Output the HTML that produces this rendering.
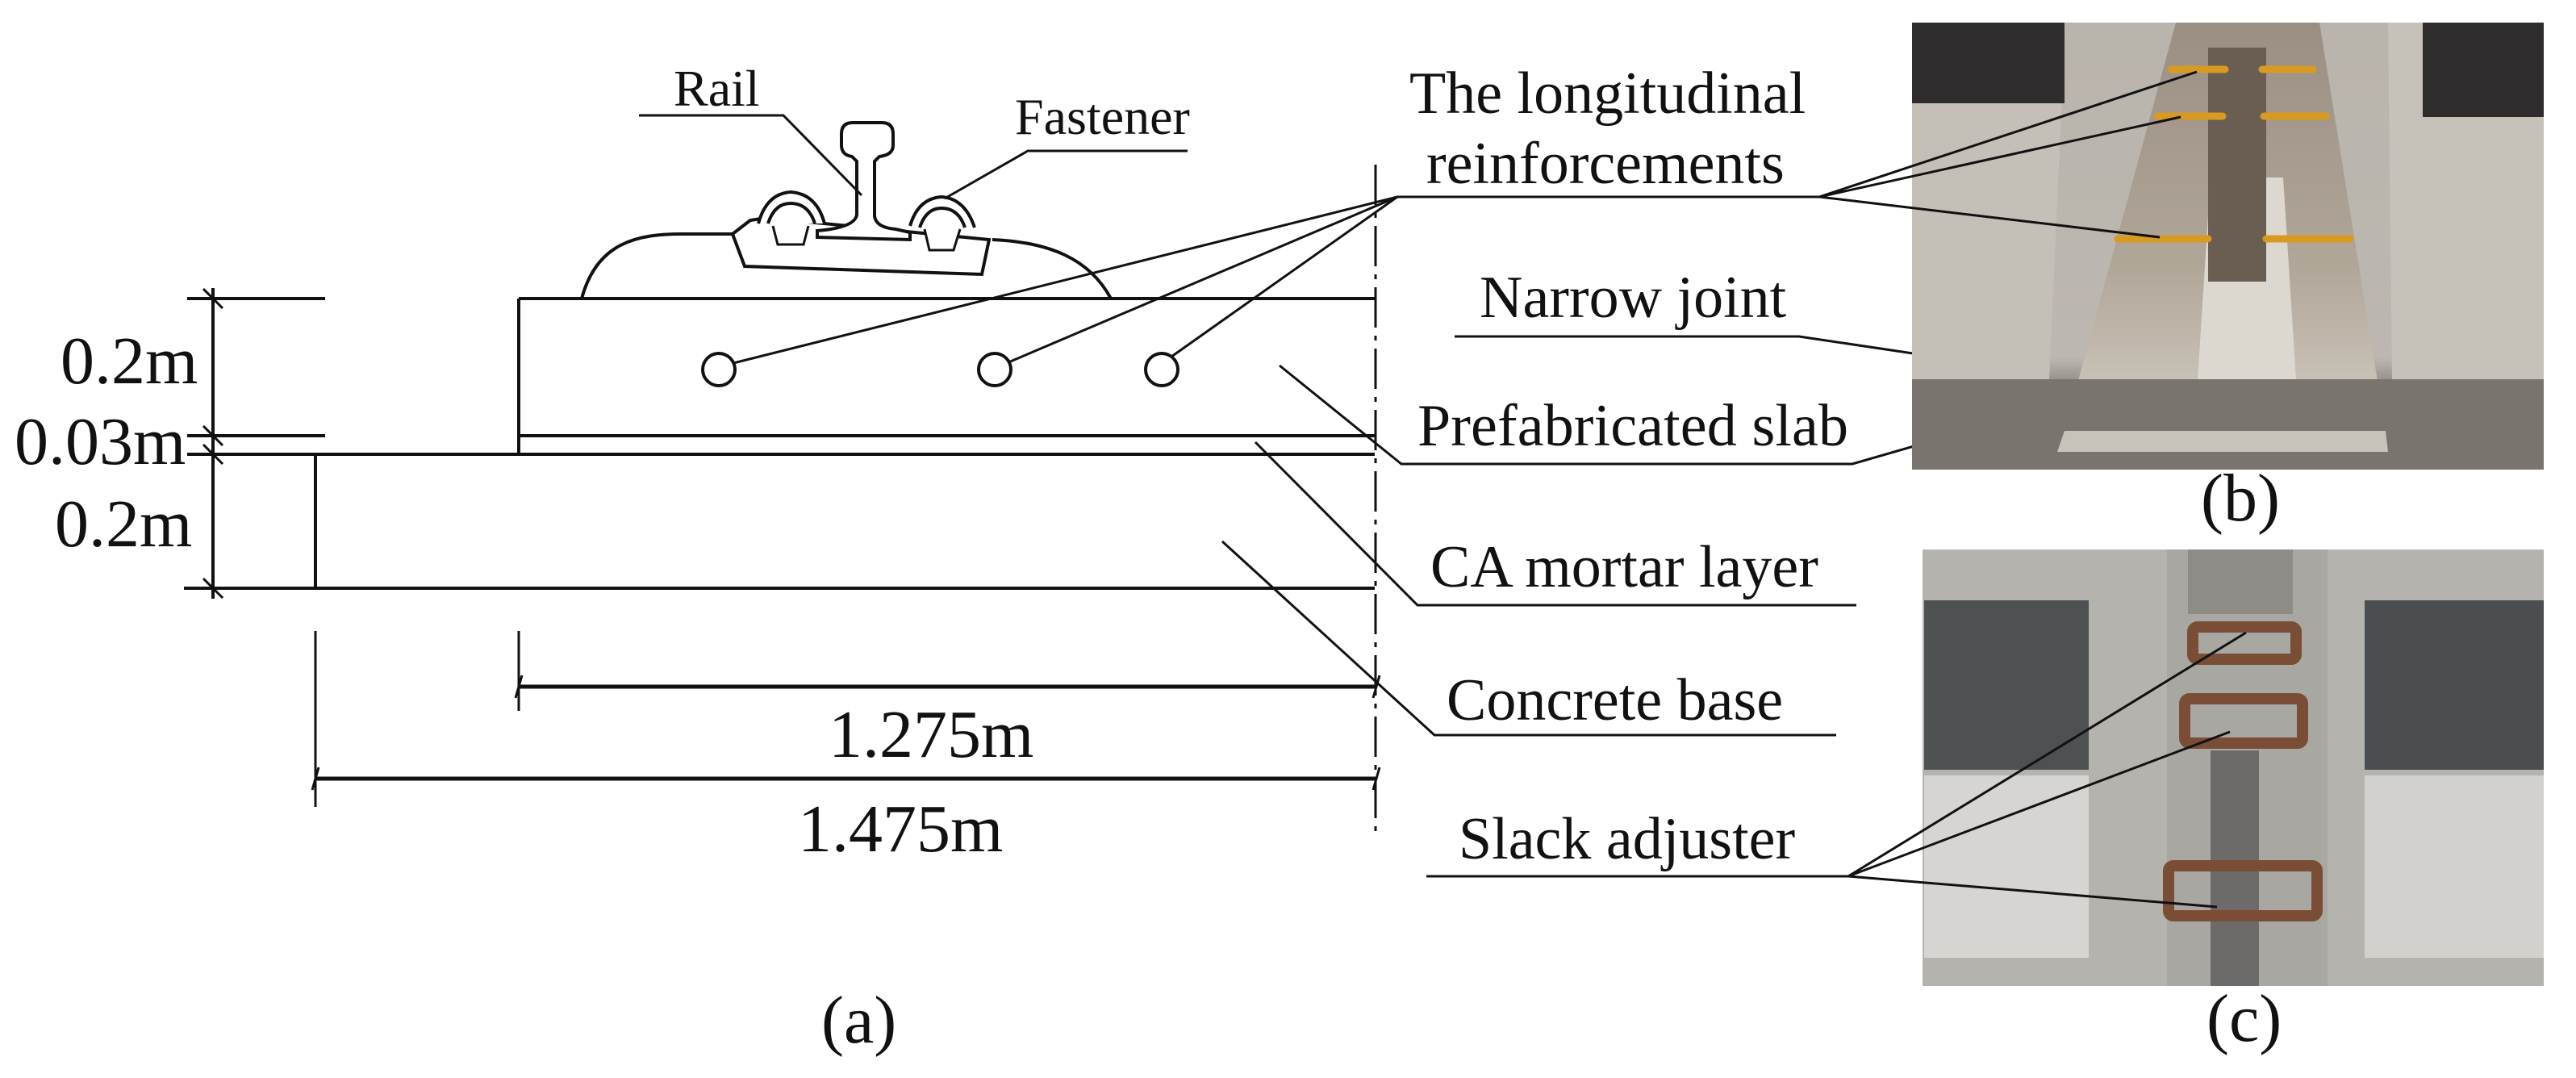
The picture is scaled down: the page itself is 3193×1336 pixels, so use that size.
<!DOCTYPE html>
<html><head><meta charset="utf-8"><style>
html,body{margin:0;padding:0;background:#fff;}
svg{display:block;}
text{font-family:"Liberation Serif",serif;fill:#111;}
</style></head><body>
<svg width="3193" height="1336" viewBox="0 0 3193 1336" xmlns="http://www.w3.org/2000/svg">
<defs>
<linearGradient id="gb" x1="0" y1="0" x2="0" y2="1">
<stop offset="0" stop-color="#b9b4ac"/><stop offset="0.75" stop-color="#bcb7b0"/><stop offset="0.82" stop-color="#8a847d"/><stop offset="1" stop-color="#6e6862"/>
</linearGradient>
<linearGradient id="gt" x1="0" y1="0" x2="0" y2="1">
<stop offset="0" stop-color="#9a8f82"/><stop offset="0.6" stop-color="#b1a799"/><stop offset="1" stop-color="#d2ccc2"/>
</linearGradient>
</defs>
<g stroke="#111" stroke-width="4" fill="none">
<!-- slab, CA, base -->
<line x1="643" y1="370" x2="1704" y2="370"/>
<line x1="643" y1="370" x2="643" y2="563"/>
<line x1="643" y1="540" x2="1704" y2="540"/>
<line x1="391" y1="563" x2="1704" y2="563"/>
<line x1="391" y1="563" x2="391" y2="729"/>
<line x1="228" y1="729" x2="1704" y2="729"/>
<!-- left dims -->
<line x1="232" y1="370" x2="403" y2="370"/>
<line x1="232" y1="540" x2="403" y2="540"/>
<line x1="232" y1="563" x2="391" y2="563"/>
<line x1="264" y1="357" x2="264" y2="742"/>
<line x1="252" y1="358" x2="276" y2="382" stroke-width="3"/>
<line x1="252" y1="528" x2="276" y2="552" stroke-width="3"/>
<line x1="252" y1="551" x2="276" y2="575" stroke-width="3"/>
<line x1="252" y1="717" x2="276" y2="741" stroke-width="3"/>
<!-- bottom dims -->
<line x1="391" y1="782" x2="391" y2="1000" stroke-width="3"/>
<line x1="643" y1="782" x2="643" y2="881" stroke-width="3"/>
<line x1="643" y1="851" x2="1706" y2="851" stroke-width="5"/>
<line x1="391" y1="965" x2="1706" y2="965" stroke-width="5"/>
<path d="M647 837 L639 865 M1710 837 L1702 865 M395 951 L387 979 M1710 951 L1702 979" stroke-width="3"/>
<!-- dashed centerline -->
<line x1="1705" y1="204" x2="1705" y2="1030" stroke-width="3" stroke-dasharray="50,10,6,10"/>
<!-- circles -->
<circle cx="891" cy="458" r="20"/>
<circle cx="1233" cy="458" r="20"/>
<circle cx="1440" cy="458" r="20"/>
<!-- rail + fasteners -->
<path d="M721 370 C740 300 790 290 846 290 L908 290"/>
<path d="M1230 297 C1300 300 1350 320 1377 370"/>
<path d="M908 290 L930 273 L950 270 L1226 297 L1217 340 L923 330 Z" fill="#fff"/>
<path d="M1043 166 Q1043 152 1057 152 L1093 152 Q1107 152 1107 166 L1107 180 Q1107 192 1090 194 L1084 200 L1084 268 Q1086 282 1110 284 L1128 288 L1128 297 L1013 294 L1013 286 Q1060 282 1062 266 L1062 200 L1056 194 Q1043 192 1043 180 Z" fill="#fff"/>
<path d="M940 277 Q950 240 980 238 Q1012 240 1022 277" fill="#fff"/>
<path d="M952 277 Q960 252 980 252 Q1002 252 1010 277"/>
<path d="M958 280 L964 303 L996 303 L1002 280" fill="#fff" stroke-width="3"/>
<path d="M1128 280 Q1138 246 1167 244 Q1196 246 1208 282" fill="#fff"/>
<path d="M1140 282 Q1148 258 1167 258 Q1188 258 1196 282"/>
<path d="M1146 284 L1152 310 L1182 310 L1190 284" fill="#fff" stroke-width="3"/>
<!-- leaders -->
<polyline points="792,143 971,143 1068,242" stroke-width="3"/>
<polyline points="1472,187 1274,187 1171,246" stroke-width="3"/>
<polyline points="909,450 1732,244 2255,244" stroke-width="3"/>
<line x1="1250" y1="449" x2="1732" y2="244" stroke-width="3"/>
<line x1="1452" y1="442" x2="1732" y2="244" stroke-width="3"/>
<polyline points="1586,453 1737,575 2296,575 2504,515" stroke-width="3"/>
<polyline points="1803,417 2230,417 2748,494" stroke-width="3"/>
<polyline points="1556,548 1757,750 2301,750" stroke-width="3"/>
<polyline points="1515,671 1778,911 2276,911" stroke-width="3"/>
</g>
<!-- photo b -->
<g>
<rect x="2370" y="28" width="783" height="554" fill="url(#gb)"/>
<path d="M2370 28 L2560 28 L2540 470 L2370 470 Z" fill="#c4c0b8"/>
<path d="M2960 28 L3153 28 L3153 470 L2965 470 Z" fill="#c6c2ba"/>
<path d="M2697 28 L2875 28 L2957 534 L2559 534 Z" fill="url(#gt)"/>
<path d="M2740 220 L2830 220 L2850 534 L2720 534 Z" fill="#ddd8cf"/>
<rect x="2737" y="59" width="72" height="290" fill="#6a5e52"/>
<rect x="2370" y="470" width="783" height="112" fill="#7a746e"/>
<path d="M2559 534 L2957 534 L2960 560 L2550 560 Z" fill="#c8c3ba"/>
<g stroke="#d99a22" stroke-width="9" stroke-linecap="round">
<line x1="2691" y1="86" x2="2758" y2="86"/><line x1="2804" y1="86" x2="2867" y2="86"/>
<line x1="2674" y1="144" x2="2755" y2="144"/><line x1="2806" y1="144" x2="2883" y2="144"/>
<line x1="2625" y1="296" x2="2737" y2="296"/><line x1="2809" y1="296" x2="2913" y2="296"/>
</g>
<rect x="2370" y="28" width="189" height="100" fill="#2e2c2c"/>
<rect x="3003" y="28" width="150" height="117" fill="#2e2c2c"/>
</g>
<g stroke="#111" stroke-width="3" fill="none">
<polyline points="2723,89 2255,244 2703,145"/>
<line x1="2255" y1="244" x2="2677" y2="294"/>
</g>
<!-- photo c -->
<g>
<rect x="2383" y="681" width="770" height="541" fill="#b5b3ae"/>
<rect x="2686" y="681" width="199" height="541" fill="#a9a7a2"/>
<rect x="2740" y="930" width="60" height="292" fill="#6c6b69"/>
<rect x="2712" y="681" width="130" height="80" fill="#8e8c86"/>
<rect x="2385" y="744" width="204" height="210" fill="#4d5152"/>
<rect x="2385" y="961" width="204" height="226" fill="#d6d5d2"/>
<rect x="2931" y="744" width="222" height="210" fill="#4a4e50"/>
<rect x="2931" y="961" width="222" height="226" fill="#d2d1cd"/>
<g fill="none" stroke="#7a4e36" stroke-width="14">
<rect x="2718" y="777" width="128" height="40" rx="6"/>
<rect x="2708" y="866" width="146" height="55" rx="6"/>
<rect x="2688" y="1073" width="184" height="62" rx="6"/>
</g>
</g>
<g stroke="#111" stroke-width="3" fill="none">
<polyline points="1768,1086 2291,1086 2784,784"/>
<line x1="2291" y1="1086" x2="2764" y2="907"/>
<line x1="2291" y1="1086" x2="2748" y2="1124"/>
</g>
<!-- text -->
<g font-size="64">
<text x="835" y="131">Rail</text>
<text x="1258" y="166">Fastener</text>
</g>
<g font-size="84">
<text x="75" y="475">0.2m</text>
<text x="18" y="575">0.03m</text>
<text x="68" y="677">0.2m</text>
<text x="1027" y="938">1.275m</text>
<text x="989" y="1055">1.475m</text>
<text x="1018" y="1292">(a)</text>
<text x="2728" y="645">(b)</text>
<text x="2735" y="1290">(c)</text>
</g>
<g font-size="74">
<text x="1747" y="140">The longitudinal</text>
<text x="1768" y="227">reinforcements</text>
<text x="1834" y="393">Narrow joint</text>
<text x="1757" y="552" textLength="534">Prefabricated slab</text>
<text x="1773" y="727">CA mortar layer</text>
<text x="1793" y="892">Concrete base</text>
<text x="1808" y="1064">Slack adjuster</text>
</g>
</svg>
</body></html>
